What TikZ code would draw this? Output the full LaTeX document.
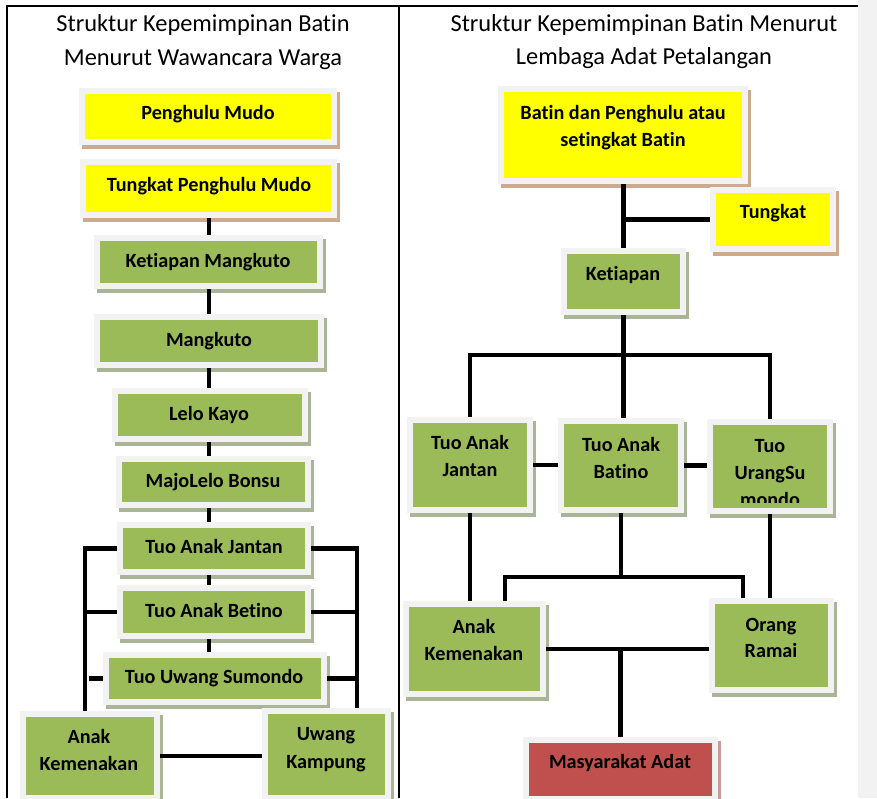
\documentclass[tikz,border=0pt]{standalone}
\usepackage{fontspec}
\setmainfont{Carlito}[Ligatures=NoCommon]
\definecolor{frc}{HTML}{F2F2F2}
\definecolor{yel}{HTML}{FFFF00}
\definecolor{grn}{HTML}{9BBB59}
\definecolor{redc}{HTML}{C0504D}
\definecolor{ysh}{HTML}{CFA98C}
\definecolor{gsh}{HTML}{A9B596}
\definecolor{rsh}{HTML}{C99A9A}
\definecolor{stripc}{HTML}{F2F2F2}
\tikzset{
  boxbase/.style={rectangle, draw=frc, line width=6pt, inner sep=0pt, outer sep=3pt},
  ybox/.style={boxbase, fill=yel, preaction={draw=ysh, fill=ysh, line width=6pt, transform canvas={xshift=3pt, yshift=-4pt}}},
  gbox/.style={boxbase, fill=grn, preaction={draw=gsh, fill=gsh, line width=6pt, transform canvas={xshift=3pt, yshift=-4pt}}},
  rbox/.style={boxbase, fill=redc, preaction={draw=rsh, fill=rsh, line width=6pt, transform canvas={xshift=3pt, yshift=-4pt}}},
  link/.style={line width=4.5pt, line cap=butt, line join=miter},
  btxt/.style={font=\fontsize{20.2}{27}\selectfont\bfseries, anchor=base, inner sep=0pt},
  ttl/.style={font=\fontsize{24.4}{34}\selectfont, anchor=base, inner sep=0pt},
  tline/.style={line width=1.5pt},
}
\newcommand\orgbox[6]{%
  \node[#1, minimum width={#5-#3-6}, minimum height={#6-#4-6}] (#2) at ({(#3+#5)/2},{(#4+#6)/2}) {};}
\begin{document}
\begin{tikzpicture}[x=1pt,y=-1pt]
\useasboundingbox (0,0) rectangle (877,798);
\fill[white] (0,0) rectangle (877,798);
\fill[stripc] (858,0) rectangle (877,798);
\draw[tline] (7,798) -- (7,6) -- (858,6);
\draw[tline] (399,6) -- (399,798);

% titles
\node[ttl] (ttl-l1) at (203,31) {Struktur Kepemimpinan Batin};
\node[ttl] (ttl-l2) at (203,65) {Menurut Wawancara Warga};
\node[ttl] (ttl-r1) at (644,31) {Struktur Kepemimpinan Batin Menurut};
\node[ttl] (ttl-r2) at (644,64) {Lembaga Adat Petalangan};

% left column boxes
\orgbox{ybox}{pm}{79}{88}{337}{145}
\orgbox{ybox}{tpm}{80}{159}{337}{218}
\orgbox{gbox}{km}{94}{235}{323}{289}
\orgbox{gbox}{mk}{94}{314}{324}{368}
\orgbox{gbox}{lk}{112}{388}{308}{442}
\orgbox{gbox}{mlb}{116}{456}{311}{508}
\orgbox{gbox}{taj}{117}{522}{311}{575}
\orgbox{gbox}{tab}{117}{585}{311}{639}
\orgbox{gbox}{tus}{103}{652}{327}{705}
\orgbox{gbox}{akl}{20}{711}{160}{801}
\orgbox{gbox}{uk}{262}{708}{391}{801}

% right column boxes
\orgbox{ybox}{bdp}{498}{86}{748}{184}
\orgbox{ybox}{tgk}{710}{187}{836}{252}
\orgbox{gbox}{ktp}{561}{248}{686}{315}
\orgbox{gbox}{tajr}{407}{417}{533}{513}
\orgbox{gbox}{tabr}{558}{418}{684}{513}
\orgbox{gbox}{tusr}{707}{419}{833}{514}
\orgbox{gbox}{akr}{403}{601}{546}{697}
\orgbox{gbox}{orr}{709}{598}{834}{693}
\orgbox{rbox}{ma}{523}{737}{718}{802}

% left connectors
\coordinate (spine) at (209,0);
\coordinate (lbus) at (85,0);
\coordinate (rbus) at (357,0);
\draw[link] (spine |- tpm.south) -- (spine |- km.north);
\draw[link] (spine |- km.south) -- (spine |- mk.north);
\draw[link] (spine |- mk.south) -- (spine |- lk.north);
\draw[link] (spine |- lk.south) -- (spine |- mlb.north);
\draw[link] (spine |- mlb.south) -- (spine |- taj.north);
\draw[link] (spine |- taj.south) -- (spine |- tab.north);
\draw[link] (spine |- tab.south) -- (spine |- tus.north);
\draw[link] (taj.west) -- (lbus |- taj.west) -- (lbus |- akl.north);
\draw[link] (tab.west) -- (lbus |- tab.west);
\draw[link] (tus.west) -- ++(-14,0);
\draw[link] (taj.east) -- (rbus |- taj.east) -- (rbus |- uk.north);
\draw[link] (tab.east) -- (rbus |- tab.east);
\draw[link] (tus.east) -- (rbus |- tus.east);
\draw[link] (akl.east) -- (akl.east -| uk.west);

% right connectors
\coordinate (bar1) at (0,355);
\coordinate (b2l) at (505,577);
\coordinate (b2r) at (743,577);
\draw[link] (ktp.north) -- (ktp.north |- bdp.south);
\draw[link] (ktp.north |- tgk.west) -- (tgk.west);
\draw[link] (ktp.south) -- (ktp.south |- tabr.north);
\draw[link] (tajr.north) -- (tajr.north |- bar1) -- (tusr.north |- bar1) -- (tusr.north);
\draw[link] (tajr.east) -- (tajr.east -| tabr.west);
\draw[link] (tabr.east) -- (tabr.east -| tusr.west);
\draw[link] (tajr.south) -- (tajr.south |- akr.north);
\draw[link] (tabr.south) -- (tabr.south |- b2l);
\draw[link] (b2l |- akr.north) -- (b2l) -- (b2r) -- (b2r |- orr.north);
\draw[link] (tusr.south) -- (tusr.south |- orr.north);
\draw[link] (akr.east) -- (akr.east -| orr.west);
\draw[link] (ma.north) -- (ma.north |- akr.east);

% left texts
\node[btxt] (t-pm) at (208,119) {Penghulu Mudo};
\node[btxt] (t-tpm) at (209,191) {Tungkat Penghulu Mudo};
\node[btxt] (t-km) at (208,267.5) {Ketiapan Mangkuto};
\node[btxt] (t-mk) at (209,346) {Mangkuto};
\node[btxt] (t-lk) at (209,420) {Lelo Kayo};
\node[btxt] (t-mlb) at (213,487) {MajoLelo Bonsu};
\node[btxt] (t-taj) at (214,553) {Tuo Anak Jantan};
\node[btxt] (t-tab) at (214,617) {Tuo Anak Betino};
\node[btxt] (t-tus) at (214,683) {Tuo Uwang Sumondo};
\node[btxt] (t-akl1) at (89,743) {Anak};
\node[btxt] (t-akl2) at (89,770.5) {Kemenakan};
\node[btxt] (t-uk1) at (326,740.5) {Uwang};
\node[btxt] (t-uk2) at (326,768) {Kampung};

% right texts
\node[btxt] (t-bdp1) at (623,119) {Batin dan Penghulu atau};
\node[btxt] (t-bdp2) at (623,146.5) {setingkat Batin};
\node[btxt] (t-tgk) at (773,218) {Tungkat};
\node[btxt] (t-ktp) at (623,280.5) {Ketiapan};
\node[btxt] (t-tajr1) at (470,449) {Tuo Anak};
\node[btxt] (t-tajr2) at (470,476) {Jantan};
\node[btxt] (t-tabr1) at (621,451) {Tuo Anak};
\node[btxt] (t-tabr2) at (621,478) {Batino};
\node[btxt] (t-tusr1) at (770,452) {Tuo};
\node[btxt] (t-tusr2) at (770,479) {UrangSu};
\begin{scope}
\clip (713,425) rectangle (827,502.5);
\node[btxt] (t-tusr3) at (770,506) {mondo};
\end{scope}
\node[btxt] (t-akr1) at (474,633) {Anak};
\node[btxt] (t-akr2) at (474,660) {Kemenakan};
\node[btxt] (t-orr1) at (771,631) {Orang};
\node[btxt] (t-orr2) at (771,657.5) {Ramai};
\node[btxt] (t-ma) at (620,768) {Masyarakat Adat};
\end{tikzpicture}
\end{document}
